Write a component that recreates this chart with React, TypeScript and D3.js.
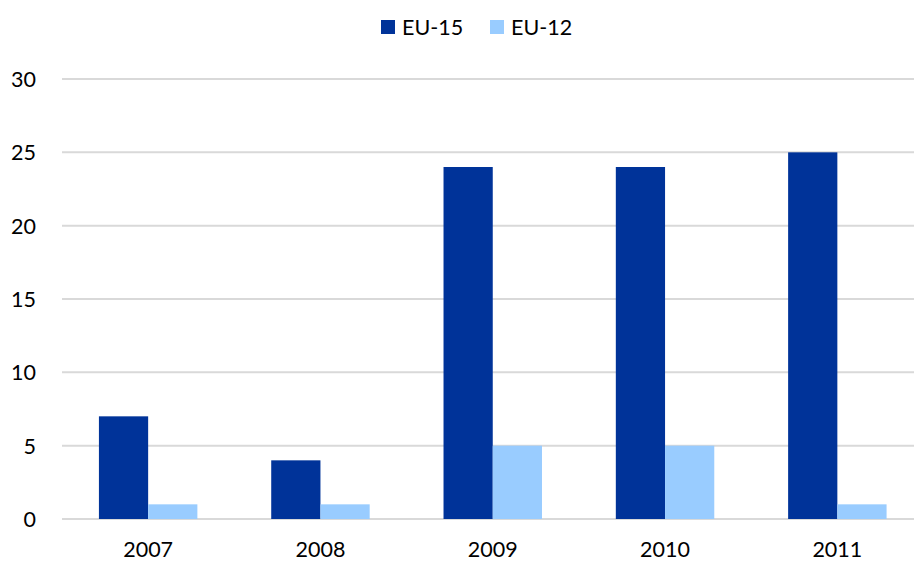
import React, { useEffect, useRef } from 'react'
import * as d3 from 'd3'

const years = ['2007', '2008', '2009', '2010', '2011']
const seriesNames = ['EU-15', 'EU-12']
const eu15 = [7, 4, 24, 24, 25]
const eu12 = [1, 1, 5, 5, 1]
const yTicks = [0, 5, 10, 15, 20, 25, 30]
const colors = ['#003399', '#99CCFF']

export default function App() {
  const ref = useRef<SVGSVGElement>(null)

  useEffect(() => {
    const svg = d3.select(ref.current)
    svg.selectAll('*').remove()
    const font = 'Lato, "Open Sans", sans-serif'
    const fs = '21.5px'

    const left = 62, right = 923.5, top = 79, bottom = 519
    const x0 = d3.scaleBand().domain(years).range([left, right])
    const x1 = d3.scaleBand().domain(seriesNames).range([0, x0.bandwidth()]).paddingOuter(0.75)
    const y = d3.scaleLinear().domain([0, 30]).range([bottom, top])

    // gridlines
    svg.append('g').selectAll('line').data(yTicks).join('line')
      .attr('x1', left).attr('x2', 914)
      .attr('y1', d => y(d)).attr('y2', d => y(d))
      .attr('stroke', '#d9d9d9').attr('stroke-width', 2)

    // y labels
    svg.append('g').selectAll('text').data(yTicks).join('text')
      .attr('x', 36).attr('y', d => y(d) + 8)
      .attr('text-anchor', 'end')
      .style('font-family', font).style('font-size', fs).attr('fill', '#000')
      .text(d => d)

    // bars
    const data = [eu15, eu12]
    const groups = svg.append('g').selectAll('g').data(years).join('g')
      .attr('transform', d => `translate(${x0(d)},0)`)
    groups.selectAll('rect')
      .data((d, i) => seriesNames.map((s, j) => ({ s, v: data[j][i], c: colors[j] })))
      .join('rect')
      .attr('x', d => x1(d.s)!)
      .attr('width', x1.bandwidth())
      .attr('y', d => y(d.v))
      .attr('height', d => bottom - y(d.v))
      .attr('fill', d => d.c)

    // x labels
    svg.append('g').selectAll('text').data(years).join('text')
      .attr('x', d => x0(d)! + x0.bandwidth() / 2).attr('y', 557)
      .attr('text-anchor', 'middle')
      .style('font-family', font).style('font-size', fs).attr('fill', '#000')
      .text(d => d)

    // legend
    const legendX = [381, 490]
    const lg = svg.append('g').selectAll('g').data(seriesNames).join('g')
      .attr('transform', (d, i) => `translate(${legendX[i]},20)`)
    lg.append('rect').attr('width', 14).attr('height', 14).attr('fill', (d, i) => colors[i])
    lg.append('text').attr('x', 21).attr('y', 15)
      .style('font-family', font).style('font-size', fs).attr('fill', '#000')
      .text(d => d)
  }, [])

  return (
    <svg ref={ref} width={914} height={563}
      style={{ position: 'absolute', left: 0, top: 0, background: '#fff' }} />
  )
}
